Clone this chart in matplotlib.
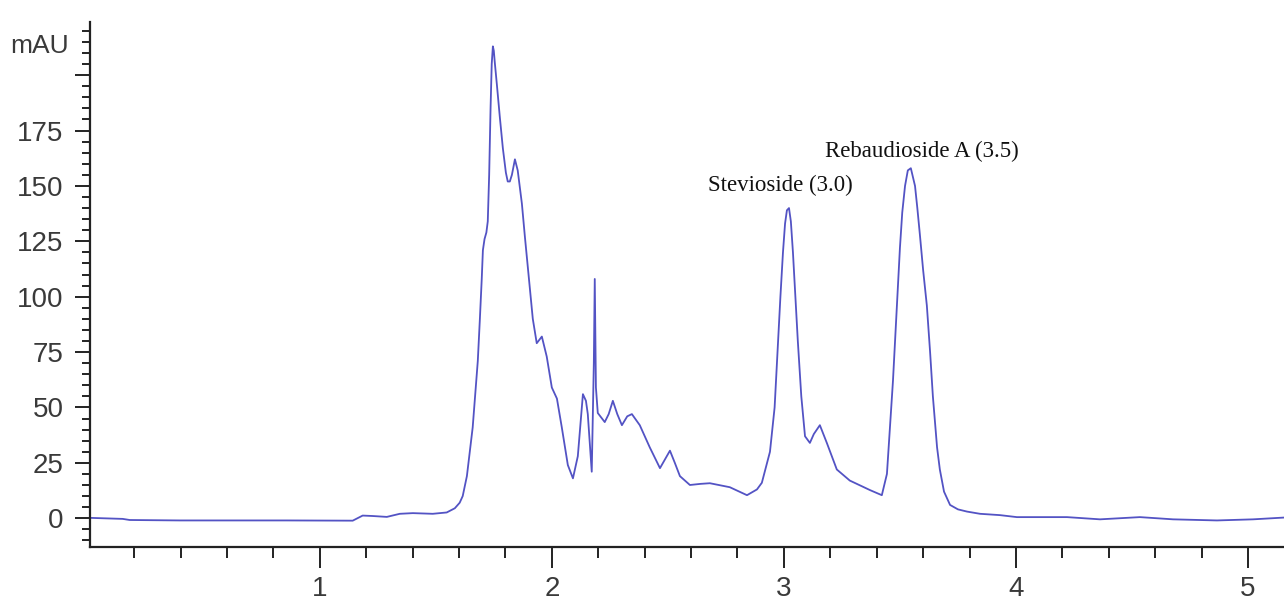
import matplotlib
matplotlib.use("Agg")
import matplotlib.pyplot as plt
from matplotlib.ticker import MultipleLocator, FixedLocator

# retention time (min) and absorbance (mAU)
time_min = [
    0.000, 0.151, 0.181, 0.397, 0.858, 1.142, 1.185, 1.228, 1.289, 1.345,
    1.401, 1.487, 1.547, 1.582, 1.603, 1.616, 1.634, 1.659, 1.681, 1.690,
    1.698, 1.703, 1.710, 1.718, 1.724, 1.730, 1.736, 1.741, 1.746, 1.750,
    1.754, 1.763, 1.776, 1.789, 1.802, 1.810, 1.819, 1.828, 1.841, 1.853,
    1.871, 1.884, 1.905, 1.918, 1.935, 1.957, 1.978, 2.000, 2.022, 2.043,
    2.069, 2.091, 2.112, 2.134, 2.147, 2.155, 2.172, 2.181, 2.185, 2.190,
    2.198, 2.228, 2.245, 2.263, 2.282, 2.302, 2.325, 2.345, 2.379, 2.422,
    2.466, 2.490, 2.509, 2.530, 2.552, 2.595, 2.640, 2.681, 2.767, 2.841,
    2.884, 2.905, 2.940, 2.960, 2.974, 2.985, 2.996, 3.005, 3.013, 3.022,
    3.030, 3.039, 3.048, 3.060, 3.075, 3.091, 3.112, 3.129, 3.155, 3.185,
    3.228, 3.284, 3.371, 3.422, 3.444, 3.470, 3.485, 3.500, 3.510, 3.522,
    3.534, 3.547, 3.565, 3.575, 3.586, 3.600, 3.616, 3.630, 3.642, 3.660,
    3.672, 3.690, 3.716, 3.750, 3.789, 3.845, 3.931, 4.004, 4.220, 4.362,
    4.534, 4.677, 4.866, 5.022, 5.155,
]
signal_mau = [
    0.2, -0.3, -0.8, -1.0, -1.0, -1.1, 1.2, 1.0, 0.6, 2.0,
    2.3, 2.0, 2.6, 4.5, 7.0, 10.0, 19.0, 41.0, 71.0, 90.0,
    108.0, 121.0, 126.0, 129.0, 134.0, 155.0, 185.0, 205.0, 213.0, 211.0,
    206.0, 196.0, 181.0, 167.0, 156.0, 152.0, 152.0, 155.0, 162.0, 157.0,
    142.0, 127.0, 104.0, 90.0, 79.0, 82.0, 73.0, 59.0, 54.0, 41.0,
    24.0, 18.0, 28.0, 56.0, 53.0, 47.0, 21.0, 70.0, 108.0, 59.0,
    47.5, 43.4, 47.0, 53.0, 47.0, 42.0, 46.0, 47.0, 42.0, 32.0,
    22.6, 27.0, 30.5, 25.0, 19.0, 15.0, 15.5, 15.8, 14.0, 10.4,
    13.0, 16.0, 30.0, 50.0, 78.0, 100.0, 120.0, 133.0, 139.0, 140.0,
    134.0, 120.0, 103.0, 80.0, 55.0, 37.0, 34.0, 38.0, 42.0, 34.0,
    22.0, 17.0, 12.7, 10.4, 20.0, 62.0, 92.0, 122.0, 138.0, 150.0,
    157.0, 158.0, 150.0, 140.0, 128.0, 112.0, 96.0, 75.0, 55.0, 32.0,
    22.0, 12.0, 6.0, 4.0, 3.0, 2.0, 1.4, 0.5, 0.5, -0.5,
    0.5, -0.5, -1.0, -0.5, 0.3,
]

peak_labels = ["Stevioside (3.0)", "Rebaudioside A (3.5)"]
x_major = [1, 2, 3, 4, 5]
y_major = [0, 25, 50, 75, 100, 125, 150, 175, 200]
y_labels = ["0", "25", "50", "75", "100", "125", "150", "175", ""]

tick_font = ["Liberation Sans Narrow", "Liberation Sans", "DejaVu Sans"]
tick_color = "#3a3a3a"

fig = plt.figure(figsize=(12.84, 6.07), dpi=100)
ax = fig.add_axes([0.0701, 0.0988, 0.9299, 0.865])

ax.plot(time_min, signal_mau, color="#5353c4", linewidth=1.3)

ax.set_xlim(0.01, 5.155)
ax.set_ylim(-13, 224)

for side in ["top", "right"]:
    ax.spines[side].set_visible(False)
for side in ["left", "bottom"]:
    ax.spines[side].set_linewidth(1.6)
    ax.spines[side].set_color("#222222")

ax.xaxis.set_major_locator(FixedLocator(x_major))
ax.xaxis.set_minor_locator(MultipleLocator(0.2))
ax.yaxis.set_major_locator(FixedLocator(y_major))
ax.yaxis.set_minor_locator(MultipleLocator(5))
ax.set_xticklabels([str(v) for v in x_major])
ax.set_yticklabels(y_labels)

ax.tick_params(axis="x", which="major", direction="out", length=15, width=1.4,
               pad=6, colors="#222222", labelcolor=tick_color)
ax.tick_params(axis="x", which="minor", direction="out", length=8, width=1.4,
               colors="#222222")
ax.tick_params(axis="y", which="major", direction="out", length=11, width=1.4,
               pad=8, colors="#222222", labelcolor=tick_color)
ax.tick_params(axis="y", which="minor", direction="out", length=6, width=1.4,
               colors="#222222")
for lab in ax.get_xticklabels() + ax.get_yticklabels():
    lab.set_family(tick_font)
    lab.set_fontsize(20)

ax.text(-0.018, 213, "mAU", transform=ax.get_yaxis_transform(), ha="right",
        va="center", fontsize=19, family=tick_font, color=tick_color)

ax.text(2.672, 147.5, peak_labels[0], ha="left", va="baseline",
        fontsize=16.5, family="Liberation Serif", color="#111111")
ax.text(3.177, 163, peak_labels[1], ha="left", va="baseline",
        fontsize=16.5, family="Liberation Serif", color="#111111")

fig.savefig("out.png", dpi=100)
